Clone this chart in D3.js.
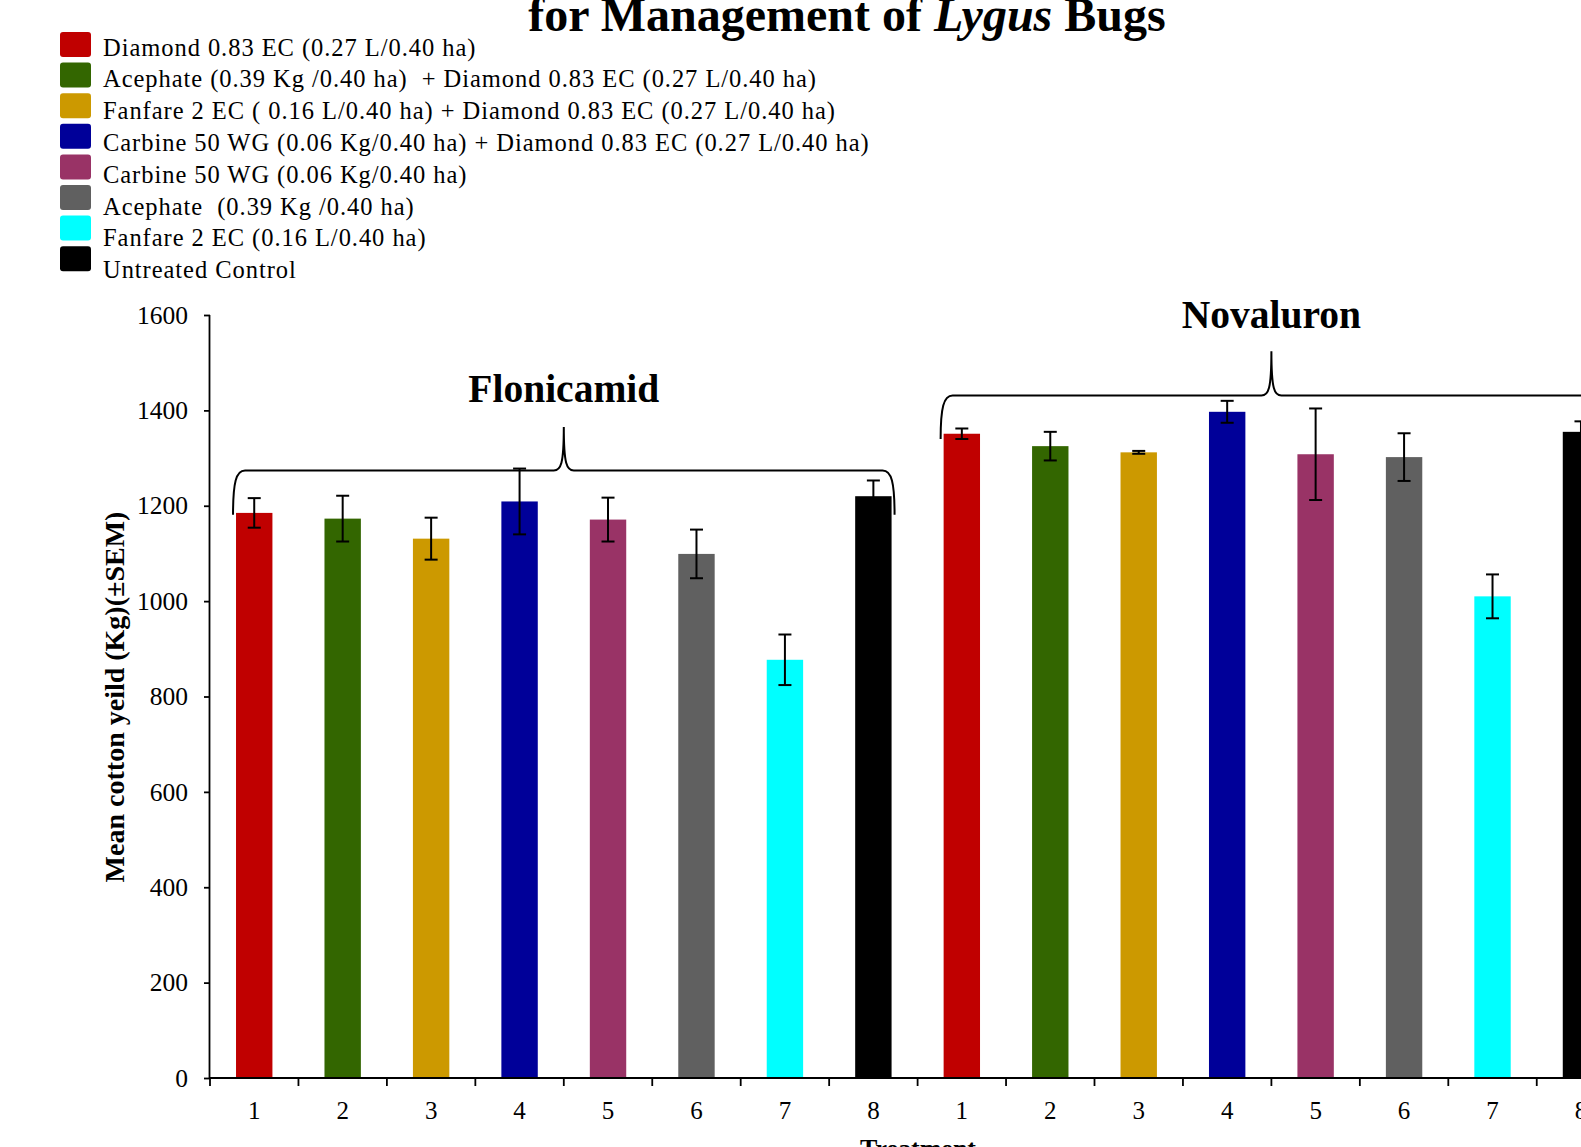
<!DOCTYPE html>
<html>
<head>
<meta charset="utf-8">
<script src="https://cdn.jsdelivr.net/npm/d3@7"></script>
<style>
  body { margin: 0; background: #fff; }
  text { font-family: "Liberation Serif", "Times New Roman", serif; }
</style>
</head>
<body>
<script>
let w = 1581;
let h = 1147;

// data
let groups = ["Flonicamid", "Novaluron"];
let treatments = [
  "Diamond 0.83 EC (0.27 L/0.40 ha)",
  "Acephate (0.39 Kg /0.40 ha)  + Diamond 0.83 EC (0.27 L/0.40 ha)",
  "Fanfare 2 EC ( 0.16 L/0.40 ha) + Diamond 0.83 EC (0.27 L/0.40 ha)",
  "Carbine 50 WG (0.06 Kg/0.40 ha) + Diamond 0.83 EC (0.27 L/0.40 ha)",
  "Carbine 50 WG (0.06 Kg/0.40 ha)",
  "Acephate  (0.39 Kg /0.40 ha)",
  "Fanfare 2 EC (0.16 L/0.40 ha)",
  "Untreated Control"
];
let tickLabels = ["1", "2", "3", "4", "5", "6", "7", "8"];
let colors = ["#C00000", "#336600", "#CC9900", "#000099", "#993366", "#606060", "#00FFFF", "#000000"];
let flonicamidMean = [1185, 1173, 1131, 1209, 1171, 1099, 877, 1220];
let flonicamidSem = [31, 48, 44, 69, 46, 51, 53, 33];
let novaluronMean = [1351, 1325, 1312, 1397, 1308, 1302, 1010, 1355];
let novaluronSem = [11, 30, 3, 23, 96, 50, 46, 22];
let yTicks = [0, 200, 400, 600, 800, 1000, 1200, 1400, 1600];

let rows = [];
[flonicamidMean, novaluronMean].forEach((means, g) => {
  let sems = g === 0 ? flonicamidSem : novaluronSem;
  means.forEach((m, i) => rows.push({ g: g, i: i, mean: m, sem: sems[i] }));
});

let svg = d3.select("body").append("svg").attr("width", w).attr("height", h);

let x0 = 210;
let step = 88.45;
let x = d3.scaleBand().domain(d3.range(rows.length)).range([x0, x0 + step * rows.length]).padding(0);
let y = d3.scaleLinear().domain([0, 1600]).range([1078, 315]);
let bw = 36.4;
let barX = k => x(k) + (x.bandwidth() - bw) / 2;

// title (first line falls outside the frame, as in the original)
let title = svg.append("text")
  .attr("x", 847).attr("y", 31)
  .attr("text-anchor", "middle")
  .attr("font-size", 48).attr("font-weight", "bold");
title.append("tspan").text("for Management of ");
title.append("tspan").attr("font-style", "italic").text("Lygus");
title.append("tspan").text(" Bugs");

// legend
let legend = svg.append("g");
legend.selectAll("rect").data(treatments).enter().append("rect")
  .attr("x", 60).attr("y", (d, i) => 32 + i * 30.6)
  .attr("width", 31).attr("height", 25).attr("rx", 3)
  .attr("fill", (d, i) => colors[i]);
legend.selectAll("text").data(treatments).enter().append("text")
  .attr("x", 103).attr("y", (d, i) => 55.5 + i * 31.8)
  .attr("font-size", 24.5).attr("letter-spacing", 0.95)
  .style("white-space", "pre").attr("xml:space", "preserve")
  .text(d => d);

// bars
svg.selectAll("rect.bar").data(rows).enter().append("rect")
  .attr("class", "bar")
  .attr("x", (d, k) => barX(k))
  .attr("y", d => y(d.mean))
  .attr("width", bw)
  .attr("height", d => y(0) - y(d.mean))
  .attr("fill", d => colors[d.i]);

// error bars
let err = svg.append("g").attr("stroke", "#000").attr("stroke-width", 2);
rows.forEach((d, k) => {
  let cx = x(k) + x.bandwidth() / 2;
  err.append("line").attr("x1", cx).attr("x2", cx).attr("y1", y(d.mean + d.sem)).attr("y2", y(d.mean - d.sem));
  [d.mean + d.sem, d.mean - d.sem].forEach(v => {
    err.append("line").attr("x1", cx - 6.5).attr("x2", cx + 6.5).attr("y1", y(v)).attr("y2", y(v));
  });
});

// y axis
let yAxis = svg.append("g").attr("transform", `translate(${x0},0)`)
  .call(d3.axisLeft(y).tickValues(yTicks).tickFormat(d3.format("d")).tickSize(6).tickPadding(16));
yAxis.select(".domain").attr("stroke-width", 1.8).attr("d", `M-0.5,${y(1600)}V${y(0)}`);
yAxis.selectAll(".tick line").attr("stroke-width", 1.8);
yAxis.selectAll(".tick text").attr("font-family", "Liberation Serif").attr("font-size", 25.5);

// x axis
let xAxis = svg.append("g");
xAxis.append("line").attr("x1", x0 - 1).attr("x2", w).attr("y1", y(0)).attr("y2", y(0))
  .attr("stroke", "#000").attr("stroke-width", 1.8);
xAxis.selectAll("line.tick").data(d3.range(rows.length + 1)).enter().append("line")
  .attr("x1", k => x0 + k * x.step()).attr("x2", k => x0 + k * x.step())
  .attr("y1", y(0)).attr("y2", y(0) + 8)
  .attr("stroke", "#000").attr("stroke-width", 1.8);
xAxis.selectAll("text").data(rows).enter().append("text")
  .attr("x", (d, k) => x(k) + x.bandwidth() / 2)
  .attr("y", 1119)
  .attr("text-anchor", "middle").attr("font-size", 25)
  .text(d => tickLabels[d.i]);

// axis titles
svg.append("text")
  .attr("transform", `translate(124,697) rotate(-90)`)
  .attr("text-anchor", "middle").attr("font-size", 28).attr("font-weight", "bold")
  .text("Mean cotton yeild (Kg)(\u00B1SEM)");
svg.append("text")
  .attr("x", 918).attr("y", 1157)
  .attr("text-anchor", "middle").attr("font-size", 26).attr("font-weight", "bold")
  .text("Treatment");

// group braces
let braceLevels = [
  { line: 1274, end: 1181, tip: 1365, label: 1418 },
  { line: 1431, end: 1340, tip: 1524, label: 1572 }
];
groups.forEach((name, g) => {
  let first = g * 8, last = g * 8 + 7;
  let xa = barX(first) - 3, xb = barX(last) + bw + 3;
  let xm = (xa + xb) / 2;
  let lv = braceLevels[g];
  let yl = y(lv.line), ye = y(lv.end), yt = y(lv.tip);
  let p = d3.path();
  p.moveTo(xa, ye);
  p.bezierCurveTo(xa, yl + 12, xa + 3, yl, xa + 12, yl);
  p.lineTo(xm - 10, yl);
  p.bezierCurveTo(xm - 3, yl, xm, yl - 6, xm, yt);
  p.bezierCurveTo(xm, yl - 6, xm + 3, yl, xm + 10, yl);
  p.lineTo(xb - 12, yl);
  p.bezierCurveTo(xb - 3, yl, xb, yl + 12, xb, ye);
  svg.append("path").attr("d", p.toString())
    .attr("fill", "none").attr("stroke", "#000").attr("stroke-width", 2);
  svg.append("text")
    .attr("x", xm).attr("y", y(lv.label))
    .attr("text-anchor", "middle").attr("font-size", 39.5).attr("font-weight", "bold")
    .text(name);
});
</script>
</body>
</html>
